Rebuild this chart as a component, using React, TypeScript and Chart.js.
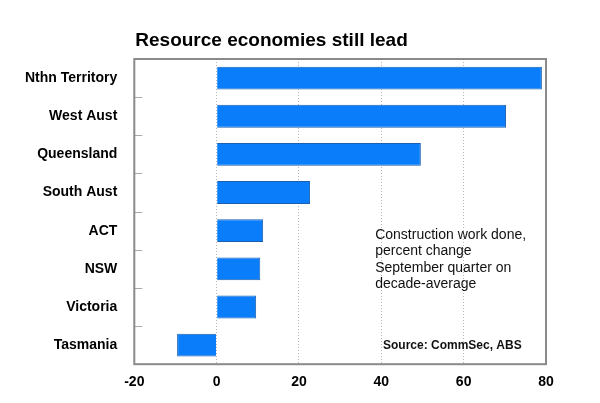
import React, { useEffect, useRef } from "react";
import { Chart, registerables } from "chart.js";

Chart.register(...registerables);

const categories = ["Nthn Territory", "West Aust", "Queensland", "South Aust", "ACT", "NSW", "Victoria", "Tasmania"];
const values = [79, 70.3, 49.6, 22.7, 11.3, 10.6, 9.6, -9.6];
const xTicks = [-20, 0, 20, 40, 60, 80];
const titleText = "Resource economies still lead";
const noteLines = ["Construction work done,", "percent change", "September quarter on", "decade-average"];
const sourceText = "Source: CommSec, ABS";

const FONT = "Arial, 'Liberation Sans', sans-serif";

const overlay = {
  id: "overlay",
  afterDraw(chart: any) {
    const { ctx, chartArea } = chart;
    const xs = chart.scales.x;
    const ys = chart.scales.y;
    ctx.save();
    // inner category ticks
    ctx.strokeStyle = "#aaa";
    ctx.lineWidth = 1;
    for (let i = 0; i < categories.length - 1; i++) {
      const y = Math.round((ys.getPixelForValue(i) + ys.getPixelForValue(i + 1)) / 2) + 0.5;
      ctx.beginPath();
      ctx.moveTo(chartArea.left, y);
      ctx.lineTo(chartArea.left + 8, y);
      ctx.stroke();
    }
    // frame
    ctx.strokeStyle = "#8a8a8a";
    ctx.lineWidth = 2;
    ctx.strokeRect(chartArea.left, chartArea.top, chartArea.right - chartArea.left, chartArea.bottom - chartArea.top);
    // title
    ctx.fillStyle = "#000";
    ctx.font = `bold 19px ${FONT}`;
    ctx.textAlign = "left";
    ctx.textBaseline = "middle";
    ctx.fillText(titleText, chartArea.left + 1, chartArea.top - 18);
    // note
    ctx.fillStyle = "#111";
    ctx.font = `14px ${FONT}`;
    const nx = xs.getPixelForValue(38.5);
    const ny0 = ys.getPixelForValue(4) + 4.5;
    noteLines.forEach((l, i) => ctx.fillText(l, nx, ny0 + i * 16.3));
    ctx.font = `bold 12px ${FONT}`;
    ctx.fillText(sourceText, xs.getPixelForValue(40.4), ys.getPixelForValue(7) + 1);
    ctx.restore();
  },
};

export default function App() {
  const ref = useRef<HTMLCanvasElement>(null);
  useEffect(() => {
    document.body.style.margin = "0";
    const chart = new Chart(ref.current!, {
      type: "bar",
      data: {
        labels: categories,
        datasets: [
          {
            data: values,
            backgroundColor: "#0A7EFA",
            borderColor: "#1A5FB0",
            borderWidth: 1,
            barPercentage: 0.6,
            categoryPercentage: 1,
          },
        ],
      },
      options: {
        indexAxis: "y",
        animation: false,
        responsive: false,
        maintainAspectRatio: false,
        layout: { padding: { left: 16, right: 54, top: 59, bottom: 2 } },
        plugins: { legend: { display: false }, tooltip: { enabled: false }, title: { display: false } },
        scales: {
          x: {
            min: -20,
            max: 80,
            afterBuildTicks: (axis: any) => {
              axis.ticks = xTicks.map((v) => ({ value: v }));
            },
            grid: {
              color: "#b8b8b8",
              lineWidth: 1,
              tickLength: 0,
              drawTicks: false,
            },
            border: { display: false, dash: [1, 2] },
            ticks: {
              color: "#000",
              padding: 10,
              font: { family: FONT, size: 14, weight: "bold" },
            },
          },
          y: {
            offset: true,
            grid: {
              offset: true,
              drawOnChartArea: false,
              drawTicks: true,
              tickLength: 8,
              color: "rgba(0,0,0,0)",
            },
            border: { display: false },
            ticks: {
              color: "#000",
              padding: 9,
              font: { family: FONT, size: 14, weight: "bold" },
            },
          },
        },
      },
      plugins: [overlay],
    } as any);
    return () => chart.destroy();
  }, []);
  return <canvas ref={ref} width={600} height={403} style={{ display: "block" }} />;
}
